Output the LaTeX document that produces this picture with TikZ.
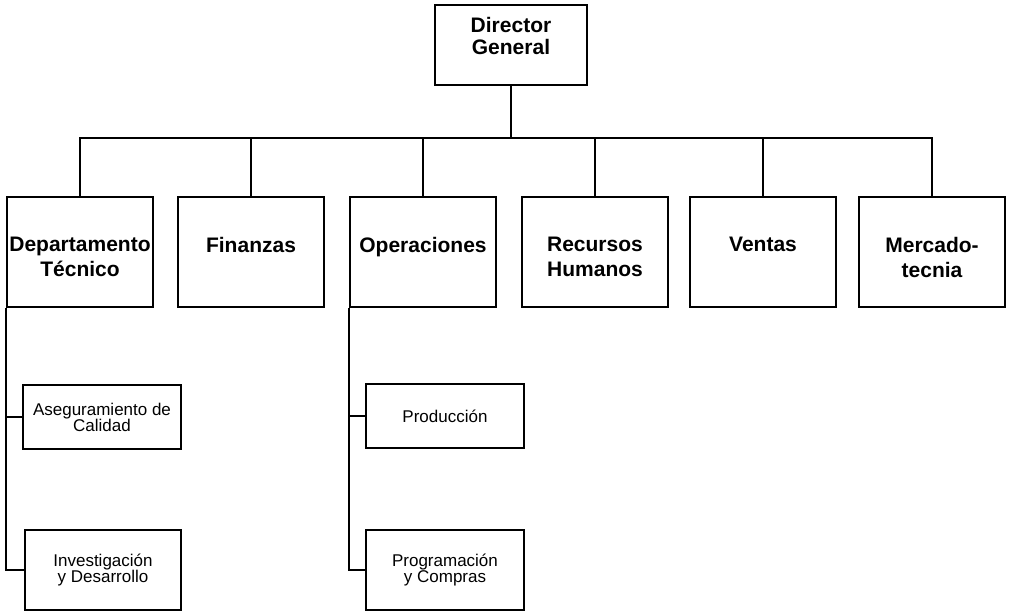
\documentclass[tikz,border=0pt]{standalone}
\usepackage{fontspec}
\setmainfont{Liberation Sans}
\begin{document}
\begin{tikzpicture}[x=1pt,y=-1pt,
  box/.style={draw,line width=2pt,rectangle,inner sep=0pt},
  bigbox/.style={box,minimum width=146pt,minimum height=110pt},
  subbox/.style={box,minimum width=158pt,align=center,font=\fontsize{17}{16}\selectfont},
  bigtxt/.style={font=\fontsize{21}{25}\selectfont\bfseries,align=center,anchor=north,inner sep=0pt},
  conn/.style={line width=2pt}]
\useasboundingbox (0,0) rectangle (1009,611);
% top
\node[box,minimum width=152pt,minimum height=80pt] (dg) at (511,45) {};
\node[bigtxt,font=\fontsize{21}{22}\selectfont\bfseries] (dgt) at (511,17) {Director\\General};
% main boxes
\node[bigbox] (dt) at (80,252) {};
\node[bigbox] (fi) at (251,252) {};
\node[bigbox] (op) at (423,252) {};
\node[bigbox] (rh) at (595,252) {};
\node[bigbox] (ve) at (763,252) {};
\node[bigbox] (mk) at (932,252) {};
\node[bigtxt] (dtt) at (80,237) {Departamento\\Técnico};
\node[bigtxt] (fit) at (251,237) {Finanzas};
\node[bigtxt] (opt) at (423,237) {Operaciones};
\node[bigtxt] (rht) at (595,237) {Recursos\\Humanos};
\node[bigtxt] (vet) at (763,237) {Ventas};
\node[bigtxt] (mkt) at (932,237) {Mercado-\\tecnia};
% sub boxes
\node[subbox,minimum height=64pt] (aq) at (102,417) {Aseguramiento de\\Calidad};
\node[subbox,minimum height=80pt,minimum width=156pt] (id) at (103,570) {Investigación\\y Desarrollo};
\node[subbox,minimum height=64pt] (pr) at (445,416) {Producción};
\node[subbox,minimum height=80pt,minimum width=158pt] (pc) at (445,570) {Programación\\y Compras};
% connectors
\coordinate (bar) at (0,138);
\draw[conn] (dg.south) -- (dg.south |- bar);
\draw[conn,line cap=rect] (dt.north |- bar) -- (mk.north |- bar);
\foreach \n in {dt,fi,op,rh,ve,mk} \draw[conn] (\n.north |- bar) -- (\n.north);
\draw[conn] (dt.south west) |- (id.west);
\draw[conn] (dt.south west |- aq.west) -- (aq.west);
\draw[conn] (op.south west) |- (pc.west);
\draw[conn] (op.south west |- pr.west) -- (pr.west);
\end{tikzpicture}
\end{document}
